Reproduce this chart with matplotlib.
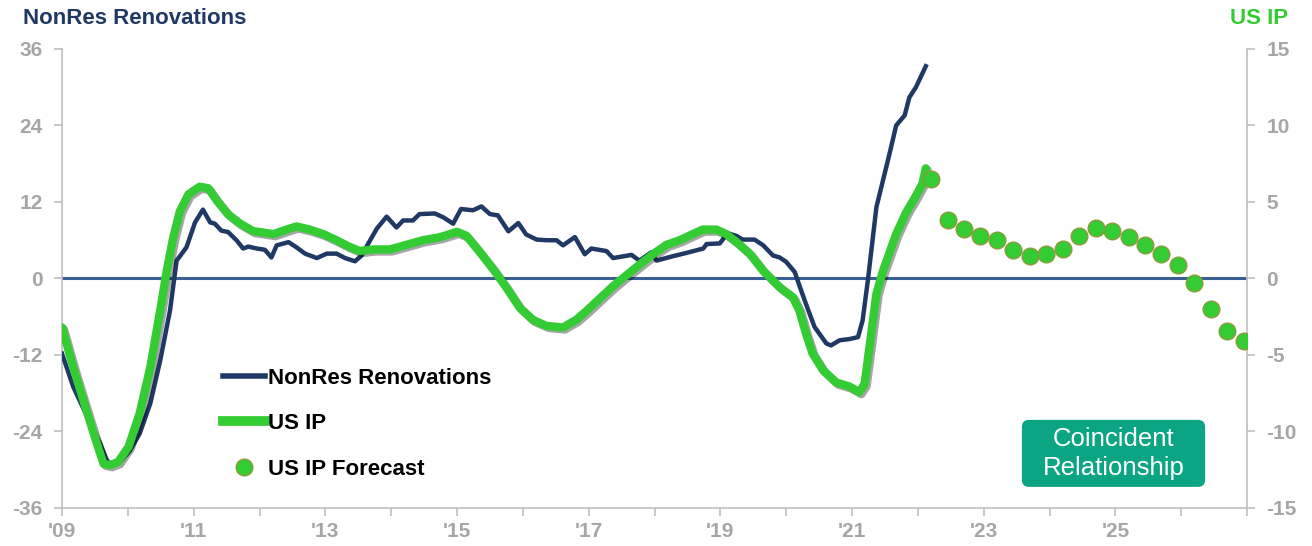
import matplotlib
matplotlib.use("Agg")
import matplotlib.pyplot as plt
import matplotlib.patheffects as pe
from matplotlib.lines import Line2D
from matplotlib.patches import FancyBboxPatch

plt.rcParams['font.family'] = ['Liberation Sans', 'DejaVu Sans']

# NonRes Renovations, y/y % (left axis), traced points in decimal years
nonres_x = [2009.00, 2009.17, 2009.43, 2009.58, 2009.68, 2009.75, 2009.88, 2010.03, 2010.18,
            2010.34, 2010.49, 2010.64, 2010.74, 2010.89, 2011.02, 2011.14, 2011.25, 2011.32,
            2011.42, 2011.52, 2011.65, 2011.75, 2011.83, 2011.96, 2012.08, 2012.18, 2012.26,
            2012.44, 2012.56, 2012.69, 2012.87, 2013.02, 2013.17, 2013.30, 2013.45, 2013.55,
            2013.68, 2013.78, 2013.93, 2014.08, 2014.18, 2014.33, 2014.43, 2014.66, 2014.79,
            2014.94, 2015.06, 2015.24, 2015.37, 2015.50, 2015.62, 2015.78, 2015.93, 2016.05,
            2016.21, 2016.36, 2016.51, 2016.61, 2016.79, 2016.94, 2017.04, 2017.27, 2017.37,
            2017.65, 2017.77, 2017.95, 2018.03, 2018.28, 2018.48, 2018.74, 2018.79, 2018.99,
            2019.11, 2019.24, 2019.34, 2019.52, 2019.65, 2019.80, 2019.90, 2020.00, 2020.13,
            2020.20, 2020.30, 2020.43, 2020.61, 2020.68, 2020.81, 2020.96, 2021.09, 2021.16,
            2021.24, 2021.37, 2021.47, 2021.57, 2021.67, 2021.80, 2021.87, 2021.97, 2022.12]
nonres_y = [-11.8, -17.0, -22.7, -25.9, -28.5, -29.3, -28.8, -27.0, -24.3,
            -19.6, -12.9, -5.0, 2.8, 4.9, 8.8, 10.8, 8.8, 8.6,
            7.5, 7.3, 6.0, 4.7, 5.0, 4.7, 4.5, 3.3, 5.2,
            5.7, 4.9, 3.9, 3.2, 3.9, 3.9, 3.2, 2.7, 3.6,
            6.0, 7.8, 9.7, 8.0, 9.1, 9.1, 10.1, 10.2, 9.6,
            8.6, 10.9, 10.7, 11.3, 10.1, 9.9, 7.4, 8.7, 6.9,
            6.1, 6.0, 6.0, 5.2, 6.5, 3.8, 4.7, 4.3, 3.2,
            3.7, 2.8, 4.1, 2.8, 3.5, 4.0, 4.7, 5.4, 5.5,
            7.1, 6.7, 6.1, 6.1, 5.2, 3.6, 3.3, 2.6, 1.0,
            -1.1, -4.0, -7.6, -10.2, -10.5, -9.7, -9.5, -9.2, -6.6,
            -0.3, 11.2, 15.4, 19.6, 24.0, 25.6, 28.4, 30.0, 33.3]

# US Industrial Production, y/y % (right axis)
ip_x = [2009.00, 2009.17, 2009.37, 2009.53, 2009.63, 2009.73, 2009.85, 2010.01, 2010.18,
        2010.34, 2010.49, 2010.59, 2010.69, 2010.79, 2010.92, 2011.09, 2011.22, 2011.35,
        2011.52, 2011.70, 2011.90, 2012.06, 2012.21, 2012.41, 2012.56, 2012.76, 2012.97,
        2013.17, 2013.35, 2013.52, 2013.73, 2013.98, 2014.23, 2014.48, 2014.74, 2015.00,
        2015.14, 2015.35, 2015.55, 2015.75, 2015.95, 2016.15, 2016.36, 2016.61, 2016.81,
        2016.97, 2017.17, 2017.37, 2017.57, 2017.77, 2017.98, 2018.18, 2018.38, 2018.58,
        2018.73, 2018.94, 2019.09, 2019.24, 2019.45, 2019.65, 2019.90, 2020.10, 2020.20,
        2020.30, 2020.40, 2020.56, 2020.76, 2020.96, 2021.11, 2021.19, 2021.27, 2021.37,
        2021.47, 2021.67, 2021.82, 2021.97, 2022.07, 2022.12]
ip_y = [-3.2, -5.8, -8.6, -10.8, -12.1, -12.2, -12.0, -11.0, -8.8,
        -5.8, -2.1, 0.5, 2.7, 4.4, 5.5, 6.0, 5.9, 5.1,
        4.2, 3.6, 3.1, 3.0, 2.9, 3.2, 3.4, 3.2, 2.9,
        2.5, 2.1, 1.8, 1.9, 1.9, 2.2, 2.5, 2.7, 3.05,
        2.8, 1.7, 0.6, -0.6, -1.9, -2.7, -3.1, -3.2, -2.7,
        -2.1, -1.3, -0.5, 0.2, 0.9, 1.6, 2.2, 2.5, 2.9,
        3.2, 3.2, 2.9, 2.4, 1.6, 0.5, -0.57, -1.22, -2.1,
        -3.6, -4.9, -6.0, -6.8, -7.06, -7.43, -6.9, -4.3, -1.0,
        0.5, 2.9, 4.3, 5.4, 6.2, 7.2]

# US IP forecast, quarterly
fc_x = [2022.20, 2022.45, 2022.70, 2022.95, 2023.20, 2023.45, 2023.70, 2023.95, 2024.20, 2024.45,
        2024.70, 2024.95, 2025.20, 2025.45, 2025.70, 2025.95, 2026.20, 2026.45, 2026.70, 2026.95]
fc_y = [6.5, 3.8, 3.25, 2.75, 2.5, 1.85, 1.5, 1.6, 1.95, 2.8,
        3.3, 3.1, 2.7, 2.2, 1.6, 0.9, -0.3, -2.0, -3.4, -4.1]

left_ticks = [-36, -24, -12, 0, 12, 24, 36]
right_ticks = [-15, -10, -5, 0, 5, 10, 15]
years = list(range(2009, 2028))

NAVY = "#1F3864"
GREEN = "#33CC33"
GREY = "#A6A6A6"
SPINE = "#BFBFBF"

fig = plt.figure(figsize=(13.12, 5.46), dpi=100)
ax = fig.add_axes([0.0473, 0.0696, 0.9032, 0.8407])
ax2 = ax.twinx()

ax.set_xlim(2009, 2027)
ax.set_ylim(-36, 36)
ax2.set_ylim(-15, 15)

ax.axhline(0, color="#3A5F94", lw=2.2, zorder=1)
ax.plot(nonres_x, nonres_y, color=NAVY, lw=3.2, solid_joinstyle="round", zorder=3)

shadow = [pe.SimpleLineShadow(offset=(1.5, -1.5), shadow_color="black", alpha=0.35), pe.Normal()]
ax2.plot(ip_x, ip_y, color=GREEN, lw=6, solid_capstyle="round", solid_joinstyle="round",
         path_effects=shadow, zorder=4)
ax2.plot(fc_x, fc_y, linestyle="none", marker="o", ms=12, mfc=GREEN, mec="#8C9A3C",
         mew=1.0, zorder=5)

# axes styling
for a in (ax, ax2):
    a.spines["top"].set_visible(False)
ax.spines["right"].set_visible(False)
ax2.spines["left"].set_visible(False)
ax2.spines["bottom"].set_visible(False)
for s in ("left", "bottom"):
    ax.spines[s].set_color(SPINE)
    ax.spines[s].set_linewidth(1.2)
ax2.spines["right"].set_color(SPINE)
ax2.spines["right"].set_linewidth(1.2)

ax.set_xticks(years)
ax.set_xticklabels(["'%02d" % (y % 100) if (y % 2 == 1 and y < 2027) else "" for y in years])
ax.set_yticks(left_ticks)
ax.set_yticklabels([str(t) for t in left_ticks])
ax2.set_yticks(right_ticks)
ax2.set_yticklabels([str(t) for t in right_ticks])

ax.tick_params(axis="x", colors=SPINE, labelcolor=GREY, length=6, width=1.2, pad=4,
               labelsize=15)
ax.tick_params(axis="y", colors=SPINE, labelcolor=GREY, length=6, width=1.2, pad=8,
               labelsize=15)
ax2.tick_params(axis="y", colors=SPINE, labelcolor=GREY, length=6, width=1.2, pad=8,
                labelsize=15)
for lab in ax.get_xticklabels() + ax.get_yticklabels() + ax2.get_yticklabels():
    lab.set_fontweight("bold")

fig.text(0.0175, 0.966, "NonRes Renovations", color=NAVY, fontsize=16, fontweight="bold",
         ha="left", va="center")
fig.text(0.9817, 0.966, "US IP", color=GREEN, fontsize=16, fontweight="bold",
         ha="right", va="center")

handles = [
    Line2D([], [], color=NAVY, lw=4),
    Line2D([], [], color=GREEN, lw=7),
    Line2D([], [], linestyle="none", marker="o", ms=12, mfc=GREEN, mec="#8C9A3C"),
]
labels = ["NonRes Renovations", "US IP", "US IP Forecast"]
leg = ax2.legend(handles, labels, loc="upper left", bbox_to_anchor=(0.128, 0.325),
                 frameon=False, handlelength=1.9, handletextpad=0.12, labelspacing=1.1,
                 borderaxespad=0.0, prop={"weight": "bold", "size": 16})

# "Coincident Relationship" badge
box = FancyBboxPatch((0.810, 0.046), 0.1546, 0.146, transform=ax.transAxes,
                     boxstyle="round,pad=0,rounding_size=0.006", mutation_aspect=2.58,
                     fc="#0BA583", ec="none", zorder=6)
ax2.add_patch(box)
ax2.text(0.8873, 0.119, "Coincident\nRelationship", transform=ax.transAxes, ha="center",
         va="center", fontsize=18.5, color="white", linespacing=1.3, zorder=7)

fig.savefig("out.png", dpi=100)
